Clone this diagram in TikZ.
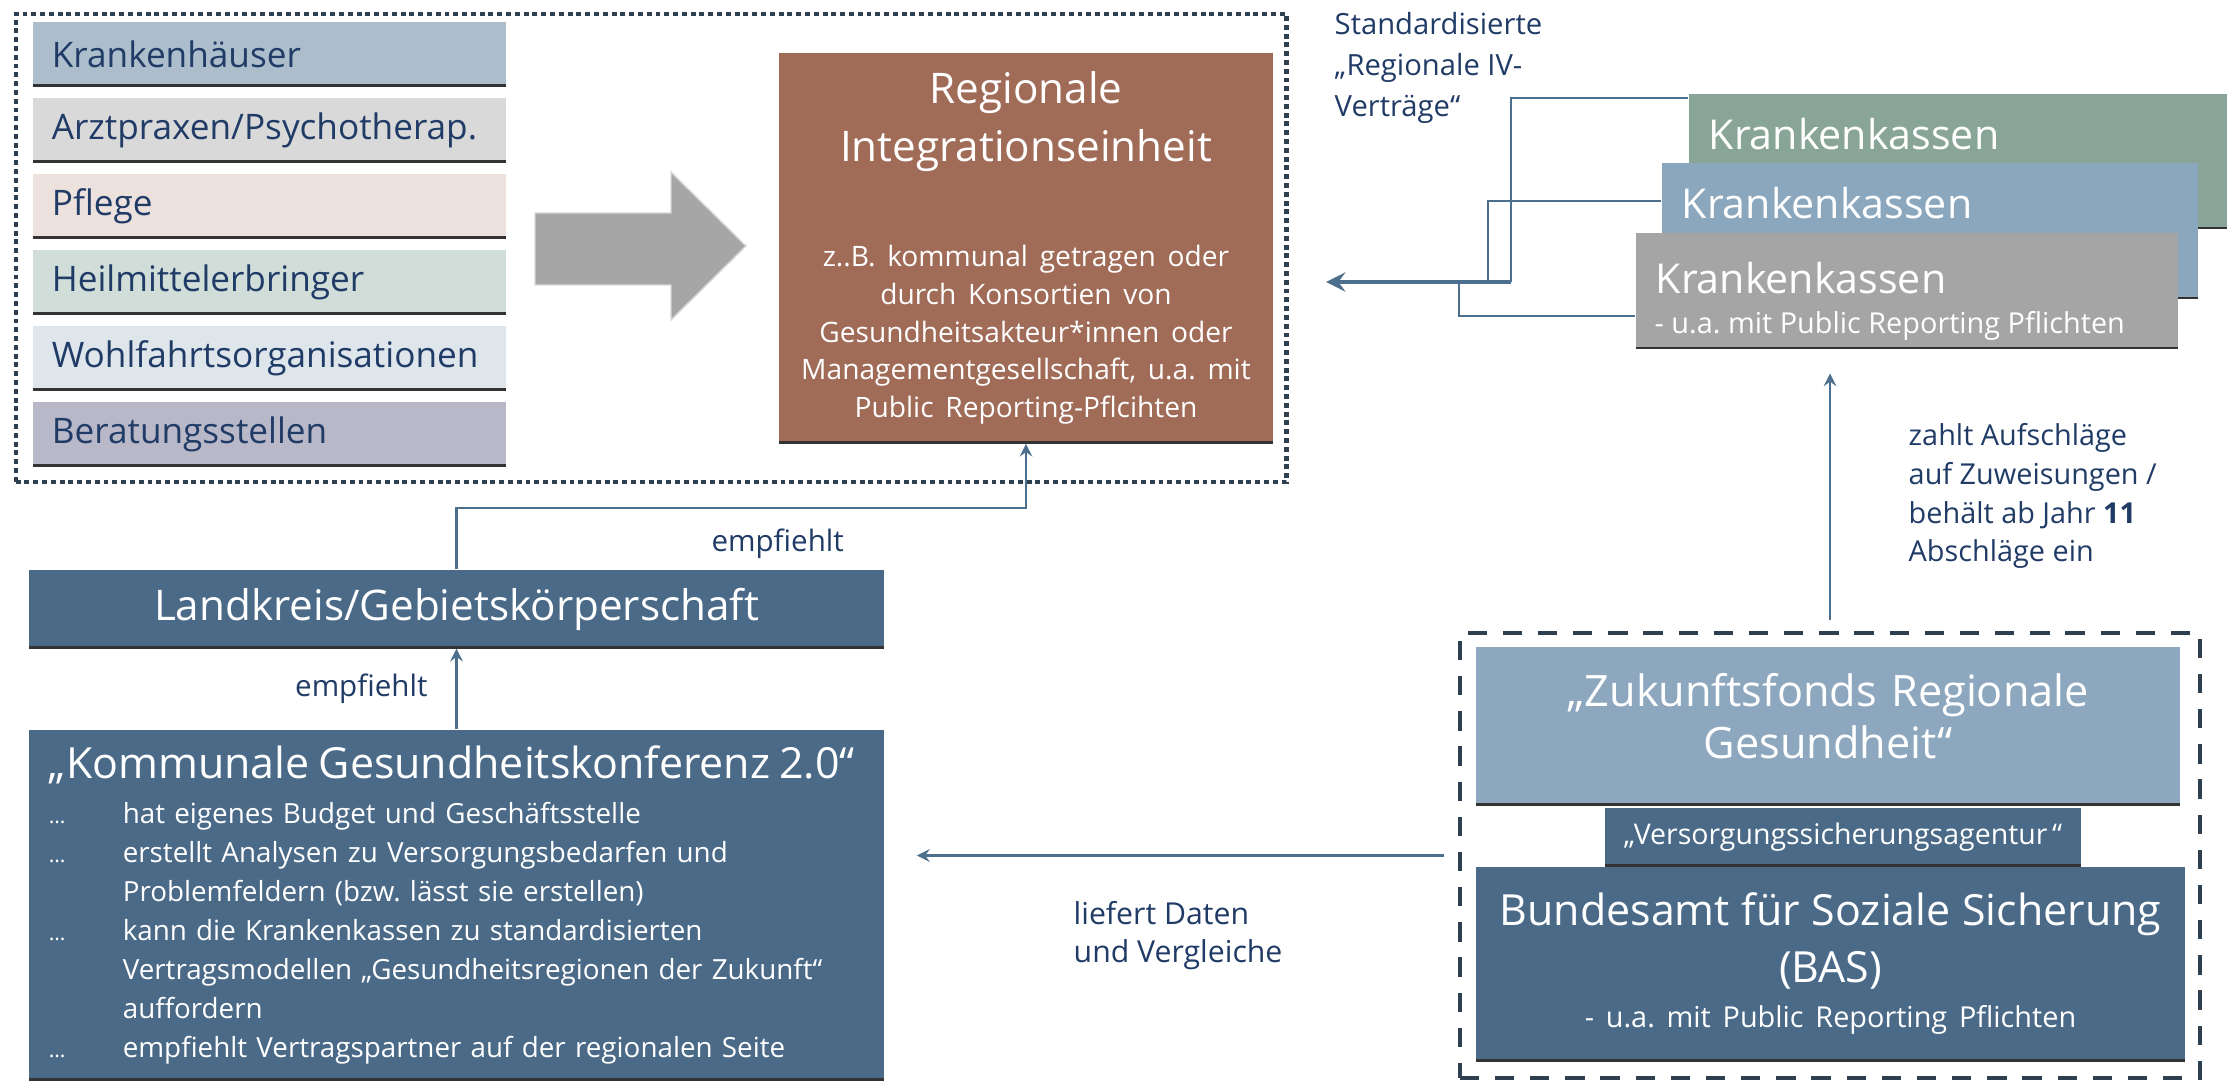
\documentclass[tikz,border=0pt]{standalone}
\usepackage{fontspec}
\setmainfont{Open Sans}
\usepackage{xcolor}
\usepackage{tikz}
\usetikzlibrary{shapes.geometric, arrows, positioning}
\frenchspacing

\definecolor{navytxt}{HTML}{1F3B66}
\definecolor{linkblue}{HTML}{4C6F8E}
\definecolor{framedark}{HTML}{2E3F50}
\definecolor{khblue}{HTML}{ACBECC}
\definecolor{apgrey}{HTML}{D9D9D9}
\definecolor{pfrose}{HTML}{ECE1DD}
\definecolor{hmgreen}{HTML}{D0DDD8}
\definecolor{wfblue}{HTML}{DEE6EC}
\definecolor{bslila}{HTML}{B9B8C9}
\definecolor{riebrown}{HTML}{A06B57}
\definecolor{kkgreen}{HTML}{88A598}
\definecolor{kkblue}{HTML}{8BA7BE}
\definecolor{kkgrey}{HTML}{A5A5A5}
\definecolor{slate}{HTML}{4A6A88}
\definecolor{zfblue}{HTML}{8CA7BE}
\definecolor{arrowgrey}{HTML}{A6A6A6}

\tikzstyle{arrow} = [semithick,->,>=stealth,draw=linkblue]
\tikzstyle{link} = [semithick,draw=linkblue]
\tikzstyle{bottomline} = [path picture={\draw[black!80, line width=1.2pt] (path picture bounding box.south west) -- (path picture bounding box.south east);}]
\tikzstyle{actor} = [rectangle, bottomline, text width=4.35cm, inner xsep=0.19cm, inner ysep=0pt, minimum height=0.64cm, align=left, text=navytxt, font=\fontsize{10}{12}\selectfont]
\tikzstyle{darkbox} = [rectangle, fill=slate, text=white, bottomline]
\tikzstyle{kasse} = [rectangle, anchor=north west, text=white, inner xsep=0.2cm, inner ysep=0pt, align=left, bottomline, font=\fontsize{11.7}{14}\selectfont]
\tikzstyle{lbl} = [inner sep=0pt, text=navytxt, align=left, font=\fontsize{8.4}{10.7}\selectfont]
\tikzstyle{dotframe} = [draw=framedark, line width=1.2pt, dash pattern=on 1.4pt off 1.1pt]
\tikzstyle{dashframe} = [draw=framedark, line width=1.2pt, dash pattern=on 5.5pt off 4.5pt]

\newcommand{\kgitem}{\makebox[0.74cm][l]{\fontsize{6}{7}\selectfont ...}}
\newcommand{\kgcont}{\hspace*{0.74cm}}

\begin{document}
\begin{tikzpicture}[x=0.01cm, y=-0.01cm, node distance=0.76cm]
\useasboundingbox (0,0) rectangle (2234,1083);

% Leistungserbringer
\node (regframe) [dotframe, minimum width=12.70cm, minimum height=4.68cm] at (651,248) {};
\node (kh) [actor, fill=khblue] at (269.5,54) {Krankenhäuser};
\node (ap) [actor, fill=apgrey, below of=kh] {Arztpraxen/Psychotherap.};
\node (pf) [actor, fill=pfrose, below of=ap] {Pflege};
\node (hm) [actor, fill=hmgreen, below of=pf] {Heilmittelerbringer};
\node (wf) [actor, fill=wfblue, below of=hm] {Wohlfahrtsorganisationen};
\node (bs) [actor, fill=bslila, below of=wf] {Beratungsstellen};

\filldraw[fill=arrowgrey, draw=gray!30] (535,213) -- (671,213) -- (671,172) -- (746,246) -- (671,320) -- (671,285) -- (535,285) -- cycle;

\node (regional) [rectangle, fill=riebrown, text=white, bottomline, minimum width=4.94cm, minimum height=3.90cm, text width=4.9cm, inner sep=0pt, align=center] at (1026,248)
  {{\fontsize{12}{16.5}\selectfont Regionale\\Integrationseinheit\par}
   {\fontsize{8}{10.7}\selectfont\vspace{0.675cm}
   z..B. kommunal getragen oder\\durch Konsortien von\\Gesundheitsakteur*innen oder\\Managementgesellschaft, u.a. mit\\Public Reporting-Pflcihten\par}};

% Krankenkassen
\node (kkgreen) [kasse, fill=kkgreen, text width=4.98cm, text height=0.56cm, text depth=0.79cm] at (1688,93) {Krankenkassen};
\node (kkblue) [kasse, fill=kkblue, text width=4.96cm, text height=0.56cm, text depth=0.80cm] at (1661,162) {Krankenkassen};
\node (kkgrey) [kasse, fill=kkgrey, text width=5.02cm, text height=0.61cm, text depth=0.55cm] at (1635,232) {Krankenkassen};
\node (kkgreysub) [anchor=base west, inner sep=0pt, text=white, font=\fontsize{8.2}{10}\selectfont] at (1654,334) {- u.a. mit Public Reporting Pflichten};
\node (ivtext) [lbl, anchor=north west, font=\fontsize{8.3}{11.6}\selectfont] at (1334,12) {Standardisierte\\„Regionale IV-\\Verträge“};

\coordinate (ivjoin) at (1511,282);
\coordinate (ivtip) at (1326,282);
\draw [link] ([yshift=-0.05cm]kkgreen.north west) -| (ivjoin);
\draw [link] ([yshift=0.30cm]kkblue.west) -| (1488,282);
\draw [link] ([yshift=-0.25cm]kkgrey.west) -| (1459,282);
\draw [arrow, line width=1.4pt] (ivjoin) -- (ivtip);

% Kommune
\node (landkreis) [darkbox, minimum width=8.55cm, minimum height=0.78cm, font=\fontsize{12}{14}\selectfont] at (456.5,609) {Landkreis/Gebietskörperschaft};
\node (kommunal) [darkbox, text width=8.15cm, inner xsep=0.2cm, minimum height=3.5cm, align=left, font=\fontsize{7.9}{11.1}\selectfont] at (456.5,905)
  {{\fontsize{12.2}{15}\selectfont „Kommunale Gesundheitskonferenz 2.0“\par}\vspace{1.5pt}
   \kgitem hat eigenes Budget und Geschäftsstelle\\
   \kgitem erstellt Analysen zu Versorgungsbedarfen und\\
   \kgcont Problemfeldern (bzw. lässt sie erstellen)\\
   \kgitem kann die Krankenkassen zu standardisierten\\
   \kgcont Vertragsmodellen „Gesundheitsregionen der Zukunft“\\
   \kgcont auffordern\\
   \kgitem empfiehlt Vertragspartner auf der regionalen Seite};

\coordinate (riknee) at (1026,508);
\draw [arrow] (kommunal.north) -- node[lbl, left=0.28cm] {empfiehlt} (landkreis.south);
\draw [arrow] (landkreis.north) |- node[lbl, pos=0.782, below=0.2cm] {empfiehlt} (riknee) -- (regional.south);

% Bund
\node (bundframe) [dashframe, minimum width=7.40cm, minimum height=4.45cm] at (1830,855.5) {};
\node (zukunft) [rectangle, fill=zfblue, text=white, bottomline, minimum width=7.0cm, minimum height=1.58cm, text width=6.8cm, align=center, font=\fontsize{12.3}{14.8}\selectfont] at (1828,726) {„Zukunftsfonds Regionale\\Gesundheit“\par\vspace{0.2cm}};
\node (vsa) [darkbox, minimum width=4.76cm, minimum height=0.58cm, font=\fontsize{8.1}{10}\selectfont] at (1843,837) {„Versorgungssicherungsagentur\,“};
\node (bas) [darkbox, minimum width=7.05cm, minimum height=1.94cm, text width=6.85cm, align=center] at (1830.5,964)
  {{\fontsize{12.2}{16.2}\selectfont Bundesamt für Soziale Sicherung\\(BAS)\par}
   {\fontsize{8.2}{12.8}\selectfont - u.a. mit Public Reporting Pflichten\par}};

\draw [arrow, shorten <=0.11cm, shorten >=0.24cm] (bundframe.north) -- (bundframe.north |- kkgrey.south);
\node (zahlt) [lbl, anchor=north west, font=\fontsize{8.2}{11}\selectfont] at (1908,423) {zahlt Aufschläge\\auf Zuweisungen /\\behält ab Jahr \textbf{11}\\Abschläge ein};

\draw [arrow, shorten <=0.14cm, shorten >=0.32cm] (bundframe.west) -- (bundframe.west -| kommunal.east);
\node (liefert) [lbl, anchor=north west, font=\fontsize{8.6}{10.8}\selectfont] at (1073,901) {liefert Daten\\und Vergleiche};
\end{tikzpicture}
\end{document}
